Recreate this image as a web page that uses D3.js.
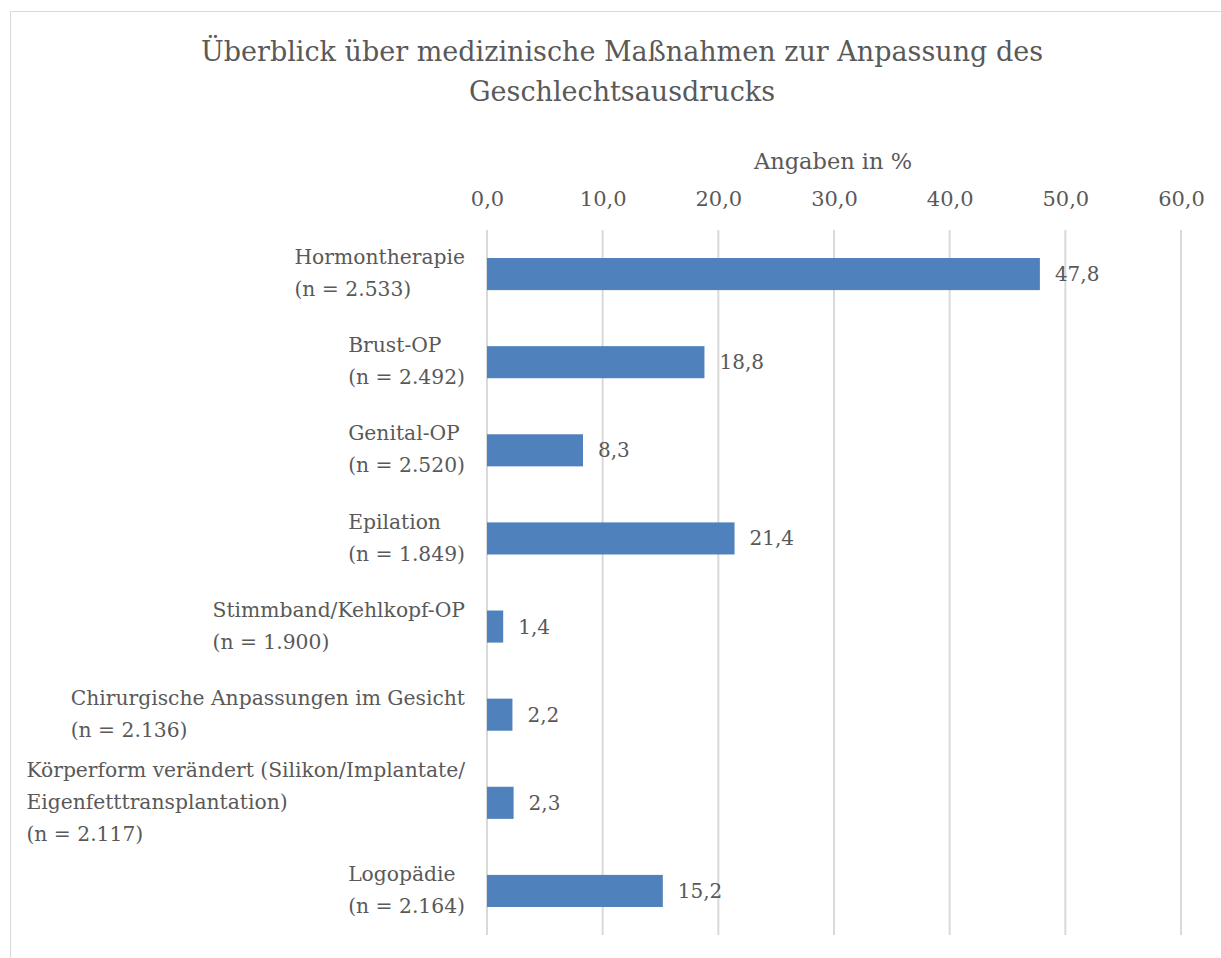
<!DOCTYPE html>
<html>
<head>
<meta charset="utf-8">
<script src="https://cdn.jsdelivr.net/npm/d3@7"></script>
<style>
  body { margin: 0; background: #fff; }
  text { font-family: "DejaVu Serif", serif; fill: #595959; }
</style>
</head>
<body>
<script>
var categories = [
  ["Hormontherapie", "(n = 2.533)"],
  ["Brust-OP", "(n = 2.492)"],
  ["Genital-OP", "(n = 2.520)"],
  ["Epilation", "(n = 1.849)"],
  ["Stimmband/Kehlkopf-OP", "(n = 1.900)"],
  ["Chirurgische Anpassungen im Gesicht", "(n = 2.136)"],
  ["Körperform verändert (Silikon/Implantate/", "Eigenfetttransplantation)", "(n = 2.117)"],
  ["Logopädie", "(n = 2.164)"]
];
var values = [47.8, 18.8, 8.3, 21.4, 1.4, 2.2, 2.3, 15.2];
var ticks = [0, 10, 20, 30, 40, 50, 60];
var titleLines = ["Überblick über medizinische Maßnahmen zur Anpassung des", "Geschlechtsausdrucks"];
var axisTitle = "Angaben in %";

var totalWidth = 1221, totalHeight = 958;

var svg = d3.select("body").append("svg")
    .attr("width", totalWidth)
    .attr("height", totalHeight);

// chart frame
svg.append("rect")
    .attr("x", 10.5).attr("y", 11.5)
    .attr("width", 1300).attr("height", 1000)
    .attr("fill", "none").attr("stroke", "#d9d9d9");

var xScale = d3.scaleLinear().domain([0, 60]).range([487, 1181]);
var yScale = d3.scaleBand().domain(d3.range(values.length))
    .range([230, 935]).paddingInner(0.636).paddingOuter(0.318);

var fmt = function(v){ return d3.format(".1f")(v).replace(".", ","); };

// grid
svg.append("g").selectAll("line").data(ticks).enter().append("line")
    .attr("x1", function(d){ return xScale(d); })
    .attr("x2", function(d){ return xScale(d); })
    .attr("y1", 230).attr("y2", 935)
    .attr("stroke", "#d9d9d9").attr("stroke-width", 2);

// top axis labels
var xAxis = d3.axisTop(xScale).tickValues(ticks).tickFormat(fmt).tickSize(0).tickPadding(0);
var xAxisGroup = svg.append("g").attr("transform", "translate(0,206)");
xAxis(xAxisGroup);
xAxisGroup.select(".domain").remove();
xAxisGroup.selectAll("text")
    .attr("font-family", null).attr("font-size", null)
    .style("font-size", "21px").style("fill", "#595959");

svg.append("text")
    .attr("x", 833).attr("y", 169)
    .attr("text-anchor", "middle")
    .style("font-size", "22.5px")
    .text(axisTitle);

// title
svg.selectAll(".title").data(titleLines).enter().append("text")
    .attr("class", "title")
    .attr("x", 622)
    .attr("y", function(d, i){ return 61 + i * 40; })
    .attr("text-anchor", "middle")
    .style("font-size", "27px")
    .text(function(d){ return d; });

// bars
svg.selectAll(".bar").data(values).enter().append("rect")
    .attr("class", "bar")
    .attr("x", xScale(0))
    .attr("y", function(d, i){ return yScale(i); })
    .attr("width", function(d){ return xScale(d) - xScale(0); })
    .attr("height", yScale.bandwidth())
    .attr("fill", "#4f81bd");

svg.selectAll(".val").data(values).enter().append("text")
    .attr("class", "val")
    .attr("x", function(d){ return xScale(d) + 15; })
    .attr("y", function(d, i){ return yScale(i) + yScale.bandwidth() / 2; })
    .attr("dy", "0.35em")
    .style("font-size", "20px")
    .text(fmt);

// category labels: left-aligned block, right edge at 465
var lineH = 32;
categories.forEach(function(lines, i){
  var cy = yScale(i) + yScale.bandwidth() / 2;
  var g = svg.append("text").style("font-size", "20.3px");
  lines.forEach(function(l, j){
    g.append("tspan")
      .attr("y", cy - 1 + (j - (lines.length - 1) / 2) * lineH)
      .attr("dy", "0.35em")
      .text(l);
  });
  var w = d3.max(g.selectAll("tspan").nodes(), function(n){ return n.getComputedTextLength(); });
  g.selectAll("tspan").attr("x", 465 - w);
});
</script>
</body>
</html>
